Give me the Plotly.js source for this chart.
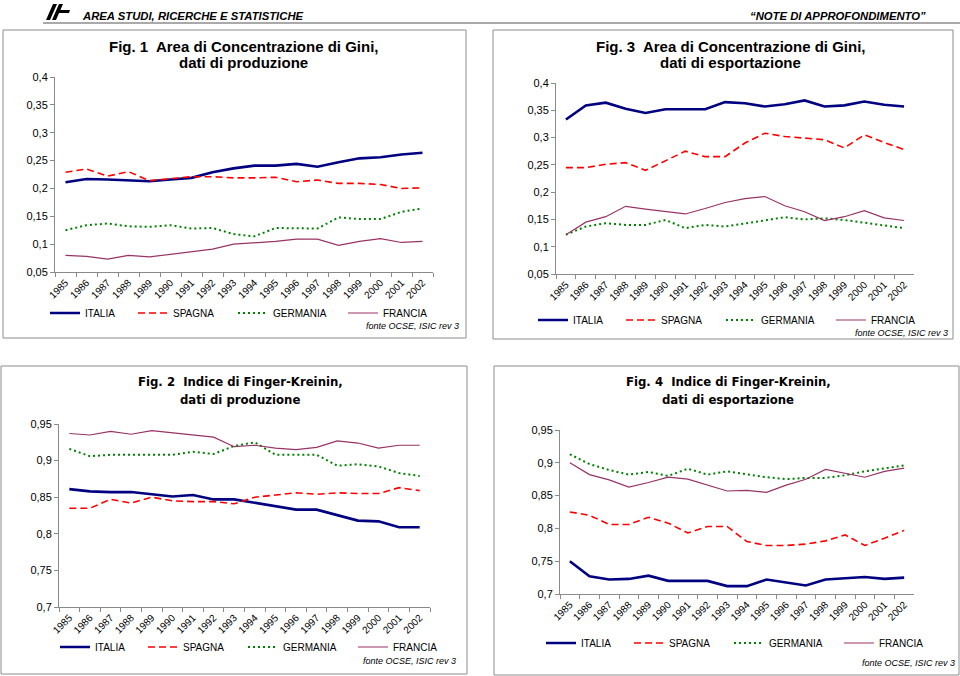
<!DOCTYPE html>
<html><head><meta charset="utf-8">
<script src="https://cdn.plot.ly/plotly-3.0.1.min.js"></script>
<style>html,body{margin:0;padding:0;background:#fff}</style>
</head><body><div id="chart" style="width:960px;height:676px"></div>
<script>
const years = ['1985','1986','1987','1988','1989','1990','1991','1992','1993','1994','1995','1996','1997','1998','1999','2000','2001','2002'];
const seriesNames = ['ITALIA','SPAGNA','GERMANIA','FRANCIA'];

// Fig. 1 Gini, produzione
const giniProdItalia   = [0.211,0.217,0.216,0.215,0.213,0.216,0.219,0.229,0.236,0.241,0.241,0.244,0.239,0.247,0.254,0.256,0.261,0.264];
const giniProdSpagna   = [0.229,0.235,0.222,0.230,0.214,0.218,0.221,0.221,0.219,0.219,0.220,0.212,0.215,0.209,0.209,0.207,0.200,0.201];
const giniProdGermania = [0.125,0.134,0.137,0.132,0.131,0.134,0.128,0.129,0.118,0.114,0.129,0.129,0.128,0.148,0.145,0.145,0.158,0.164];
const giniProdFrancia  = [0.080,0.078,0.073,0.080,0.077,0.082,0.087,0.091,0.100,0.102,0.105,0.109,0.109,0.098,0.105,0.110,0.103,0.105];

// Fig. 3 Gini, esportazione
const giniExpItalia   = [0.333,0.359,0.364,0.353,0.345,0.352,0.352,0.352,0.365,0.363,0.357,0.361,0.368,0.357,0.359,0.366,0.360,0.357];
const giniExpSpagna   = [0.245,0.245,0.251,0.254,0.240,0.257,0.275,0.265,0.265,0.290,0.308,0.302,0.299,0.296,0.281,0.305,0.291,0.278];
const giniExpGermania = [0.122,0.137,0.143,0.140,0.140,0.149,0.134,0.140,0.137,0.143,0.148,0.154,0.150,0.152,0.149,0.144,0.140,0.134];
const giniExpFrancia  = [0.122,0.145,0.155,0.174,0.169,0.164,0.160,0.170,0.181,0.188,0.192,0.175,0.164,0.148,0.155,0.166,0.153,0.148];

// Fig. 2 Finger-Kreinin, produzione
const fkProdItalia   = [0.861,0.858,0.857,0.857,0.854,0.851,0.853,0.847,0.847,0.842,0.837,0.833,0.833,0.826,0.818,0.817,0.809,0.809];
const fkProdSpagna   = [0.835,0.835,0.847,0.842,0.850,0.845,0.844,0.844,0.841,0.850,0.853,0.856,0.854,0.856,0.855,0.855,0.863,0.859];
const fkProdGermania = [0.916,0.906,0.908,0.908,0.908,0.908,0.912,0.909,0.920,0.925,0.908,0.908,0.908,0.893,0.895,0.892,0.883,0.879];
const fkProdFrancia  = [0.937,0.935,0.940,0.936,0.941,0.938,0.934,0.932,0.919,0.921,0.917,0.915,0.918,0.927,0.924,0.917,0.921,0.921];

// Fig. 4 Finger-Kreinin, esportazione
const fkExpItalia   = [0.750,0.727,0.722,0.723,0.728,0.720,0.720,0.720,0.712,0.712,0.722,0.718,0.713,0.722,0.724,0.726,0.723,0.725];
const fkExpSpagna   = [0.825,0.820,0.806,0.806,0.817,0.808,0.793,0.803,0.803,0.780,0.774,0.774,0.776,0.781,0.790,0.774,0.785,0.797];
const fkExpGermania = [0.913,0.898,0.889,0.882,0.886,0.880,0.891,0.882,0.887,0.882,0.878,0.875,0.877,0.877,0.881,0.887,0.892,0.896];
const fkExpFrancia  = [0.900,0.882,0.874,0.863,0.870,0.878,0.875,0.866,0.857,0.858,0.855,0.866,0.875,0.890,0.884,0.878,0.887,0.892];

const giniTickVals = [0.05,0.1,0.15,0.2,0.25,0.3,0.35,0.4];
const giniTickText = ['0,05','0,1','0,15','0,2','0,25','0,3','0,35','0,4'];
const fkTickVals = [0.7,0.75,0.8,0.85,0.9,0.95];
const fkTickText = ['0,7','0,75','0,8','0,85','0,9','0,95'];

const figTitles = [
  ['Fig. 1  Area di Concentrazione di Gini,','dati di produzione'],
  ['Fig. 3  Area di Concentrazione di Gini,','dati di esportazione'],
  ['Fig. 2  Indice di Finger-Kreinin,','dati di produzione'],
  ['Fig. 4  Indice di Finger-Kreinin,','dati di esportazione']
];
const sourceText = 'fonte OCSE, ISIC rev 3';
const headerLeft = 'AREA STUDI, RICERCHE E STATISTICHE';
const headerRight = '\u201CNOTE DI APPROFONDIMENTO\u201D';

// ---------- styling / layout ----------
const W = 960, H = 676;
const px = x => x / W;
const py = y => 1 - y / H;
const FONT = 'Liberation Sans, Arial, sans-serif';
const NARROW = 'DejaVu Sans Condensed, Liberation Sans, Arial, sans-serif';

const styles = {
  ITALIA:   {color:'#000080', width:2.6, dash:'solid', lw:43},
  SPAGNA:   {color:'#FF0000', width:1.6, dash:'7px,4px', lw:55},
  GERMANIA: {color:'#008000', width:2.0, dash:'2px,3px', lw:65},
  FRANCIA:  {color:'#993366', width:1.2, dash:'solid', lw:45}
};

const panels = [
  {data:[giniProdItalia,giniProdSpagna,giniProdGermania,giniProdFrancia], x:'x',  y:'y',  legend:'legend'},
  {data:[giniExpItalia,giniExpSpagna,giniExpGermania,giniExpFrancia],     x:'x2', y:'y2', legend:'legend2'},
  {data:[fkProdItalia,fkProdSpagna,fkProdGermania,fkProdFrancia],         x:'x3', y:'y3', legend:'legend3'},
  {data:[fkExpItalia,fkExpSpagna,fkExpGermania,fkExpFrancia],             x:'x4', y:'y4', legend:'legend4'}
];

const traces = [];
panels.forEach(p => {
  seriesNames.forEach((name, i) => {
    const s = styles[name];
    traces.push({
      type:'scatter', mode:'lines', name:name, x:years, y:p.data[i],
      xaxis:p.x, yaxis:p.y, legend:p.legend, legendwidth:s.lw,
      line:{color:s.color, width:s.width, dash:s.dash},
      hoverinfo:'skip'
    });
  });
});

const AXC = '#8a8a8a';
function xAx(d0, d1, anchor) {
  return {domain:[px(d0), px(d1)], anchor:anchor, type:'category',
    categoryorder:'array', categoryarray:years, range:[-0.5, years.length - 0.5],
    showline:true, linecolor:AXC, linewidth:1, ticks:'outside', tickson:'boundaries',
    ticklen:4, tickcolor:AXC, tickangle:-45, tickfont:{family:FONT, size:10, color:'#000'},
    showgrid:false, zeroline:false, fixedrange:true, automargin:false};
}
function yAx(b, t, anchor, range, tv, tt) {
  return {domain:[py(b), py(t)], anchor:anchor, range:range, tickmode:'array',
    tickvals:tv, ticktext:tt, showline:true, linecolor:AXC, linewidth:1,
    ticks:'outside', ticklen:4, tickcolor:AXC, tickfont:{family:FONT, size:11, color:'#000'},
    showgrid:false, zeroline:false, fixedrange:true, automargin:false};
}
function gridAx(over, anchor, range, tv) {
  return {overlaying:over, anchor:anchor, range:range, tickmode:'array',
    tickvals:tv.slice(1, tv.length - 1), showticklabels:false, ticks:'',
    showline:false, showgrid:true, gridcolor:'#c4c4c4', gridwidth:1,
    zeroline:false, fixedrange:true};
}

const giniRange = [giniTickVals[0], giniTickVals[giniTickVals.length-1]];
const fkRange = [fkTickVals[0], fkTickVals[fkTickVals.length-1]];

function legendAt(x, y) {
  return {orientation:'h', x:px(x), y:py(y), xanchor:'left', yanchor:'middle',
    bgcolor:'rgba(0,0,0,0)', borderwidth:0, font:{family:FONT, size:10, color:'#000'},
    itemwidth:30, traceorder:'normal'};
}

const annotations = [];
function ann(text, x, y, opts) {
  annotations.push(Object.assign({text:text, x:px(x), y:py(y), xref:'paper', yref:'paper',
    showarrow:false, xanchor:'center', yanchor:'middle'}, opts || {}));
}
const titlePos = [[243, 47, 63, FONT, 15], [730, 47, 63, FONT, 15], [240, 381, 399, NARROW, 13], [728, 381, 399, NARROW, 13]];
figTitles.forEach((t, i) => {
  const [cx, y1, y2, fam, sz] = titlePos[i];
  ann('<b>' + t[0] + '</b>', cx, y1, {font:{family:fam, size:sz, color:'#000'}});
  ann('<b>' + t[1] + '</b>', cx, y2, {font:{family:fam, size:sz, color:'#000'}});
});
const srcPos = [[461, 326], [950, 333], [458, 661], [957, 663]];
srcPos.forEach(([x, y]) => ann('<i>' + sourceText + '</i>', x, y,
  {xanchor:'right', font:{family:FONT, size:9, color:'#000'}}));
ann('<b><i>' + headerLeft + '</i></b>', 80, 16, {xanchor:'left', font:{family:FONT, size:11.3, color:'#000'}});
ann('<b><i>' + headerRight + '</i></b>', 928, 16, {xanchor:'right', font:{family:FONT, size:11.3, color:'#000'}});

const BOX = '#8c8c8c';
function rect(x0, y0, x1, y1) {
  return {type:'rect', xref:'paper', yref:'paper', x0:px(x0), x1:px(x1), y0:py(y1), y1:py(y0),
    line:{color:BOX, width:1}, fillcolor:'rgba(0,0,0,0)', layer:'below'};
}
function poly(pts) {
  return 'M' + pts.map(p => px(p[0]) + ',' + py(p[1])).join(' L') + ' Z';
}
const shapes = [
  rect(3, 30, 466, 338),
  rect(493, 30, 953, 339),
  rect(1, 366, 467, 674),
  rect(494, 366, 959, 675),
  {type:'line', xref:'paper', yref:'paper', x0:px(43), x1:px(960), y0:py(23), y1:py(23), line:{color:'#555', width:1}},
  {type:'path', xref:'paper', yref:'paper', path:poly([[46,20],[53,4],[57,4],[50,20]]), fillcolor:'#000', line:{width:0}},
  {type:'path', xref:'paper', yref:'paper', path:poly([[52,20],[59,4],[63,4],[56,20]]), fillcolor:'#000', line:{width:0}},
  {type:'path', xref:'paper', yref:'paper', path:poly([[57,10],[70,10],[69,13],[56,13]]), fillcolor:'#000', line:{width:0}}
];

const layout = {
  width:W, height:H, margin:{l:0, r:0, t:0, b:0, pad:0},
  paper_bgcolor:'#fff', plot_bgcolor:'rgba(0,0,0,0)',
  separators:',.', showlegend:true, hovermode:false,
  font:{family:FONT, size:11, color:'#000'},
  xaxis:  xAx(55, 433, 'y'),
  yaxis:  yAx(272, 77, 'x', giniRange, giniTickVals, giniTickText),
  xaxis2: xAx(556, 914, 'y2'),
  yaxis2: yAx(274, 83, 'x2', giniRange, giniTickVals, giniTickText),
  xaxis3: xAx(59, 430, 'y3'),
  yaxis3: yAx(607, 424, 'x3', fkRange, fkTickVals, fkTickText),
  xaxis4: xAx(560, 914, 'y4'),
  yaxis4: yAx(594, 430, 'x4', fkRange, fkTickVals, fkTickText),
  yaxis5: gridAx('y', 'x', giniRange, giniTickVals),
  yaxis6: gridAx('y2', 'x2', giniRange, giniTickVals),
  yaxis7: gridAx('y3', 'x3', fkRange, fkTickVals),
  yaxis8: gridAx('y4', 'x4', fkRange, fkTickVals),
  legend:  legendAt(45, 313),
  legend2: legendAt(533, 320),
  legend3: legendAt(55, 647),
  legend4: legendAt(541, 643),
  annotations:annotations, shapes:shapes
};

Plotly.newPlot('chart', traces, layout, {staticPlot:true, displayModeBar:false});
</script></body></html>
